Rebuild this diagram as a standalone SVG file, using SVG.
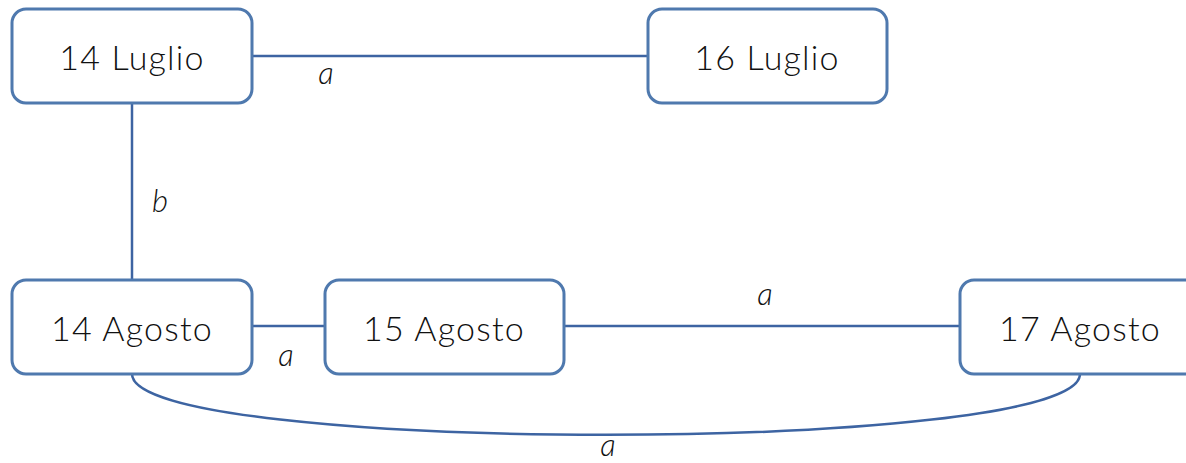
<svg xmlns="http://www.w3.org/2000/svg" width="1186" height="463" viewBox="0 0 1186 463">
  <style>
    .node rect { fill: #ffffff; stroke: #4f79ae; stroke-width: 3; }
    .node text { font-family: Lato, "Noto Sans", sans-serif; font-weight: 300; font-size: 34px; letter-spacing: 1.2px; fill: #111111; text-anchor: middle; }
    .edge { fill: none; stroke: #3d64a2; stroke-width: 2.5; }
    .lbl { font-family: Lato, "Noto Sans", sans-serif; font-style: italic; font-weight: 300; font-size: 31px; fill: #111111; text-anchor: middle; }
  </style>
  <rect width="1186" height="463" fill="#ffffff"/>
  <g id="connectors">
    <path class="edge" d="M252 56 H648"/>
    <path class="edge" d="M132 103 V280"/>
    <path class="edge" d="M252 326 H325"/>
    <path class="edge" d="M564 326 H960"/>
    <path class="edge" d="M132 374 C132 455 1080 455 1080 374"/>
    <text class="lbl" x="326" y="84">a</text>
    <text class="lbl" x="160" y="212">b</text>
    <text class="lbl" x="286" y="366">a</text>
    <text class="lbl" x="765" y="305">a</text>
    <text class="lbl" x="608" y="456">a</text>
  </g>
  <g id="n14luglio" class="node">
    <rect x="12" y="9" width="240" height="94" rx="14"/>
    <text x="132" y="70">14 Luglio</text>
  </g>
  <g id="n16luglio" class="node">
    <rect x="648" y="9" width="239" height="94" rx="14"/>
    <text x="767" y="70">16 Luglio</text>
  </g>
  <g id="n14agosto" class="node">
    <rect x="12" y="280" width="240" height="94" rx="14"/>
    <text x="132" y="341">14 Agosto</text>
  </g>
  <g id="n15agosto" class="node">
    <rect x="325" y="280" width="239" height="94" rx="14"/>
    <text x="444" y="341">15 Agosto</text>
  </g>
  <g id="n17agosto" class="node">
    <rect x="960" y="280" width="240" height="94" rx="14"/>
    <text x="1080" y="341">17 Agosto</text>
  </g>
</svg>
